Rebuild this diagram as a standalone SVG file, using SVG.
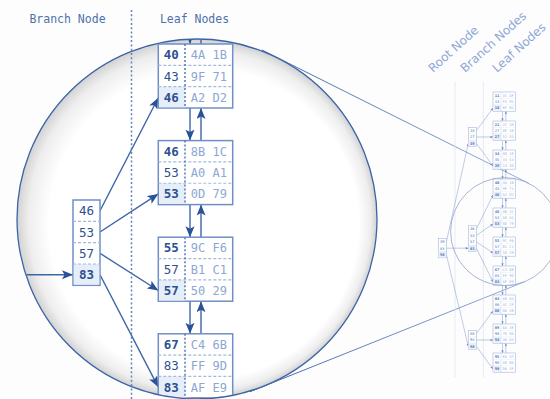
<svg xmlns="http://www.w3.org/2000/svg" width="550" height="399" viewBox="0 0 550 399">
<defs>
<style>
.hdr{font-family:"DejaVu Sans Mono",monospace;font-size:11.5px;fill:#4d72aa;text-anchor:middle}
.rot{font-family:"DejaVu Sans",sans-serif;font-size:12px;fill:#8ea8d6}
.k{font-family:"DejaVu Sans Mono",monospace;font-size:12.5px;fill:#2d5190;text-anchor:middle}
.kb{font-weight:bold}
.hx{fill:#8ca7d2;font-size:12px}
.box{fill:#fff;stroke:#6f90c6;stroke-width:1.5}
.row{stroke:#a3b9de;stroke-width:1.2;stroke-dasharray:3 2}
.col{stroke:#5479b8;stroke-width:1.5;stroke-dasharray:2 2}
.hl{fill:#e6eefa}
.con{stroke:#3c65a7;stroke-width:1.4;fill:none;marker-end:url(#ah)}
.sbox{fill:#fff;stroke:#a3b6da;stroke-width:0.6}
.srow{stroke:#c6d3ea;stroke-width:0.4;stroke-dasharray:1 0.7}
.scol{stroke:#9fb3d8;stroke-width:0.5;stroke-dasharray:0.7 0.7}
.shl{fill:#e9f0fb}
.sk{font-family:"DejaVu Sans Mono",monospace;font-size:3.8px;fill:#5577b0;text-anchor:middle}
.shx{fill:#a3b6da}
.scon{stroke:#7f99c8;stroke-width:0.5;fill:none;marker-end:url(#sah)}
.sep{stroke:#6184bd;stroke-width:1.5;stroke-dasharray:2 2.3}
.ssep{stroke:#cfd9ea;stroke-width:1;stroke-dasharray:0.8 0.8}
</style>
<radialGradient id="lens" cx="0.5" cy="0.5" r="0.5" fx="0.64" fy="0.6">
<stop offset="0" stop-color="#ffffff"/>
<stop offset="0.86" stop-color="#ffffff"/>
<stop offset="0.95" stop-color="#eeeeee"/>
<stop offset="1" stop-color="#d2d2d2"/>
</radialGradient>
<linearGradient id="tg" gradientUnits="userSpaceOnUse" x1="250" y1="0" x2="530" y2="0">
<stop offset="0" stop-color="#3b64a6"/>
<stop offset="1" stop-color="#9ab0d8"/>
</linearGradient>
<clipPath id="lensclip"><circle cx="197" cy="219" r="179.3"/></clipPath>
<marker id="ah" markerUnits="userSpaceOnUse" markerWidth="12" markerHeight="10" refX="11" refY="4.5" orient="auto">
<path d="M0,0 L11,4.5 L0,9 L2.5,4.5 Z" fill="#2a5296"/>
</marker>
<marker id="sah" markerUnits="userSpaceOnUse" markerWidth="4" markerHeight="3" refX="3" refY="1.2" orient="auto">
<path d="M0,0 L3,1.2 L0,2.4 L0.8,1.2 Z" fill="#5d7fbb"/>
</marker>
</defs>
<rect width="550" height="399" fill="#fdfdfd"/>

<!-- headers -->
<text class="hdr" x="67.5" y="23">Branch Node</text>
<text class="hdr" x="194.5" y="23">Leaf Nodes</text>
<text class="rot" transform="translate(433,73) rotate(-42)">Root Node</text>
<text class="rot" transform="translate(465,73) rotate(-42)">Branch Nodes</text>
<text class="rot" transform="translate(497,73) rotate(-42)">Leaf Nodes</text>

<!-- magnifying lens -->
<circle cx="197" cy="219" r="180" fill="url(#lens)"/>
<g clip-path="url(#lensclip)">
<g id="connectors">
<path class="con" d="M0,274.7 H73"/>
<path class="con" d="M100,210.7 L158.3,97.7"/>
<path class="con" d="M100,232 L158.3,193.9"/>
<path class="con" d="M100,253.3 L158.3,290.5"/>
<path class="con" d="M100,274.7 L158.3,387.1"/>
<path class="con" d="M190,11.4 V44"/><path class="con" d="M201,44 V11.4"/>
<path class="con" d="M190,108 V140.6"/><path class="con" d="M201,140.6 V108"/>
<path class="con" d="M190,204.6 V237.2"/><path class="con" d="M201,237.2 V204.6"/>
<path class="con" d="M190,301.2 V333.8"/><path class="con" d="M201,333.8 V301.2"/>
<path class="con" d="M190,397.8 V430.4"/><path class="con" d="M201,430.4 V397.8"/>
</g>
<g id="branch-big">
<rect class="box" x="73" y="200" width="27" height="85.33"/>
<rect class="hl" x="73.75" y="264" width="25.5" height="20.6"/>
<line class="row" x1="73" y1="221.33" x2="100" y2="221.33"/>
<line class="row" x1="73" y1="242.67" x2="100" y2="242.67"/>
<line class="row" x1="73" y1="264" x2="100" y2="264"/>
<text class="k" x="86.5" y="215.2">46</text>
<text class="k" x="86.5" y="236.5">53</text>
<text class="k" x="86.5" y="257.8">57</text>
<text class="k kb" x="86.5" y="279.2">83</text>
</g>
<g id="leaf-big-1" transform="translate(158.3,44)">
<rect class="box" width="74.4" height="64"/>
<rect class="hl" x="0.75" y="42.67" width="25.9" height="20.6"/>
<line class="row" x1="0" y1="21.33" x2="74.4" y2="21.33"/>
<line class="row" x1="0" y1="42.67" x2="74.4" y2="42.67"/>
<line class="col" x1="26.7" y1="0" x2="26.7" y2="64"/>
<text class="k kb" x="13" y="15.2">40</text><text class="k hx" x="50.5" y="15.2">4A 1B</text>
<text class="k" x="13" y="36.5">43</text><text class="k hx" x="50.5" y="36.5">9F 71</text>
<text class="k kb" x="13" y="57.8">46</text><text class="k hx" x="50.5" y="57.8">A2 D2</text>
</g>
<g id="leaf-big-2" transform="translate(158.3,140.6)">
<rect class="box" width="74.4" height="64"/>
<rect class="hl" x="0.75" y="42.67" width="25.9" height="20.6"/>
<line class="row" x1="0" y1="21.33" x2="74.4" y2="21.33"/>
<line class="row" x1="0" y1="42.67" x2="74.4" y2="42.67"/>
<line class="col" x1="26.7" y1="0" x2="26.7" y2="64"/>
<text class="k kb" x="13" y="15.2">46</text><text class="k hx" x="50.5" y="15.2">8B 1C</text>
<text class="k" x="13" y="36.5">53</text><text class="k hx" x="50.5" y="36.5">A0 A1</text>
<text class="k kb" x="13" y="57.8">53</text><text class="k hx" x="50.5" y="57.8">0D 79</text>
</g>
<g id="leaf-big-3" transform="translate(158.3,237.2)">
<rect class="box" width="74.4" height="64"/>
<rect class="hl" x="0.75" y="42.67" width="25.9" height="20.6"/>
<line class="row" x1="0" y1="21.33" x2="74.4" y2="21.33"/>
<line class="row" x1="0" y1="42.67" x2="74.4" y2="42.67"/>
<line class="col" x1="26.7" y1="0" x2="26.7" y2="64"/>
<text class="k kb" x="13" y="15.2">55</text><text class="k hx" x="50.5" y="15.2">9C F6</text>
<text class="k" x="13" y="36.5">57</text><text class="k hx" x="50.5" y="36.5">B1 C1</text>
<text class="k kb" x="13" y="57.8">57</text><text class="k hx" x="50.5" y="57.8">50 29</text>
</g>
<g id="leaf-big-4" transform="translate(158.3,333.8)">
<rect class="box" width="74.4" height="64"/>
<rect class="hl" x="0.75" y="42.67" width="25.9" height="20.6"/>
<line class="row" x1="0" y1="21.33" x2="74.4" y2="21.33"/>
<line class="row" x1="0" y1="42.67" x2="74.4" y2="42.67"/>
<line class="col" x1="26.7" y1="0" x2="26.7" y2="64"/>
<text class="k kb" x="13" y="15.2">67</text><text class="k hx" x="50.5" y="15.2">C4 6B</text>
<text class="k" x="13" y="36.5">83</text><text class="k hx" x="50.5" y="36.5">FF 9D</text>
<text class="k kb" x="13" y="57.8">83</text><text class="k hx" x="50.5" y="57.8">AF E9</text>
</g>
</g>
<circle cx="197" cy="219" r="180" fill="none" stroke="#3b64a6" stroke-width="1.3"/>
<line class="sep" x1="131.5" y1="10" x2="131.5" y2="399"/>

<!-- tangent lines to the small lens -->
<g fill="none" stroke="url(#tg)" stroke-width="1">
<path d="M262,50 L528.7,183.3"/>
<path d="M250,391.7 L524.7,281.7"/>
</g>

<!-- small overview tree -->
<line class="ssep" x1="455" y1="82" x2="455" y2="378"/>
<line class="ssep" x1="483.3" y1="82" x2="483.3" y2="378"/>
<g id="small-connectors">
<path class="scon" d="M446.4,241.8 L468.3,143.4"/>
<path class="scon" d="M446.4,248.2 H468.3"/>
<path class="scon" d="M446.4,254.6 L468.3,346.4"/>
<path class="scon" d="M476.4,130.6 L493,108"/>
<path class="scon" d="M476.4,137 L493,137"/>
<path class="scon" d="M476.4,143.4 L493,166"/>
<path class="scon" d="M476.4,229 L493,195"/>
<path class="scon" d="M476.4,235.4 L493,224"/>
<path class="scon" d="M476.4,241.8 L493,253"/>
<path class="scon" d="M476.4,248.2 L493,282"/>
<path class="scon" d="M476.4,333.6 L493,311"/>
<path class="scon" d="M476.4,340 L493,340"/>
<path class="scon" d="M476.4,346.4 L493,369"/>
<path class="scon" d="M502.5,111.2 V121"/><path class="scon" d="M505.8,121 V111.2"/>
<path class="scon" d="M502.5,140.2 V150"/><path class="scon" d="M505.8,150 V140.2"/>
<path class="scon" d="M502.5,169.2 V179"/><path class="scon" d="M505.8,179 V169.2"/>
<path class="scon" d="M502.5,198.2 V208"/><path class="scon" d="M505.8,208 V198.2"/>
<path class="scon" d="M502.5,227.2 V237"/><path class="scon" d="M505.8,237 V227.2"/>
<path class="scon" d="M502.5,256.2 V266"/><path class="scon" d="M505.8,266 V256.2"/>
<path class="scon" d="M502.5,285.2 V295"/><path class="scon" d="M505.8,295 V285.2"/>
<path class="scon" d="M502.5,314.2 V324"/><path class="scon" d="M505.8,324 V314.2"/>
<path class="scon" d="M502.5,343.2 V353"/><path class="scon" d="M505.8,353 V343.2"/>
</g>
<g id="root-small" transform="translate(438.3,238.6)">
<rect class="sbox" width="8.1" height="19.2"/><rect class="shl" x="0.3" y="12.8" width="7.5" height="6.1"/>
<line class="srow" x1="0" y1="6.4" x2="8.1" y2="6.4"/><line class="srow" x1="0" y1="12.8" x2="8.1" y2="12.8"/>
<text class="sk" x="4.05" y="4.55">39</text><text class="sk" x="4.05" y="10.95">83</text><text class="sk kb" x="4.05" y="17.35">98</text>
</g>
<g id="branch-small-1" transform="translate(468.3,127.4)">
<rect class="sbox" width="8.1" height="19.2"/><rect class="shl" x="0.3" y="12.8" width="7.5" height="6.1"/>
<line class="srow" x1="0" y1="6.4" x2="8.1" y2="6.4"/><line class="srow" x1="0" y1="12.8" x2="8.1" y2="12.8"/>
<text class="sk" x="4.05" y="4.55">18</text><text class="sk" x="4.05" y="10.95">27</text><text class="sk kb" x="4.05" y="17.35">39</text>
</g>
<g id="branch-small-2" transform="translate(468.3,225.8)">
<rect class="sbox" width="8.1" height="25.6"/><rect class="shl" x="0.3" y="19.2" width="7.5" height="6.1"/>
<line class="srow" x1="0" y1="6.4" x2="8.1" y2="6.4"/><line class="srow" x1="0" y1="12.8" x2="8.1" y2="12.8"/><line class="srow" x1="0" y1="19.2" x2="8.1" y2="19.2"/>
<text class="sk" x="4.05" y="4.55">46</text><text class="sk" x="4.05" y="10.95">53</text><text class="sk" x="4.05" y="17.35">57</text><text class="sk kb" x="4.05" y="23.75">83</text>
</g>
<g id="branch-small-3" transform="translate(468.3,330.4)">
<rect class="sbox" width="8.1" height="19.2"/><rect class="shl" x="0.3" y="12.8" width="7.5" height="6.1"/>
<line class="srow" x1="0" y1="6.4" x2="8.1" y2="6.4"/><line class="srow" x1="0" y1="12.8" x2="8.1" y2="12.8"/>
<text class="sk" x="4.05" y="4.55">88</text><text class="sk" x="4.05" y="10.95">94</text><text class="sk kb" x="4.05" y="17.35">98</text>
</g>
<g id="leaf-small-0" transform="translate(493,92)">
<rect class="sbox" width="22.4" height="19.2"/><rect class="shl" x="0.3" y="12.8" width="7.7" height="6.1"/>
<line class="srow" x1="0" y1="6.4" x2="22.4" y2="6.4"/><line class="srow" x1="0" y1="12.8" x2="22.4" y2="12.8"/><line class="scol" x1="8" y1="0" x2="8" y2="19.2"/>
<text class="sk kb" x="4" y="4.55">11</text><text class="sk shx" x="15.2" y="4.55">3C AF</text>
<text class="sk" x="4" y="10.95">13</text><text class="sk shx" x="15.2" y="10.95">F3 91</text>
<text class="sk kb" x="4" y="17.35">18</text><text class="sk shx" x="15.2" y="17.35">6F B2</text>
</g>
<g id="leaf-small-1" transform="translate(493,121)">
<rect class="sbox" width="22.4" height="19.2"/><rect class="shl" x="0.3" y="12.8" width="7.7" height="6.1"/>
<line class="srow" x1="0" y1="6.4" x2="22.4" y2="6.4"/><line class="srow" x1="0" y1="12.8" x2="22.4" y2="12.8"/><line class="scol" x1="8" y1="0" x2="8" y2="19.2"/>
<text class="sk kb" x="4" y="4.55">21</text><text class="sk shx" x="15.2" y="4.55">2C 50</text>
<text class="sk" x="4" y="10.95">27</text><text class="sk shx" x="15.2" y="10.95">0F 1B</text>
<text class="sk kb" x="4" y="17.35">27</text><text class="sk shx" x="15.2" y="17.35">52 55</text>
</g>
<g id="leaf-small-2" transform="translate(493,150)">
<rect class="sbox" width="22.4" height="19.2"/><rect class="shl" x="0.3" y="12.8" width="7.7" height="6.1"/>
<line class="srow" x1="0" y1="6.4" x2="22.4" y2="6.4"/><line class="srow" x1="0" y1="12.8" x2="22.4" y2="12.8"/><line class="scol" x1="8" y1="0" x2="8" y2="19.2"/>
<text class="sk kb" x="4" y="4.55">34</text><text class="sk shx" x="15.2" y="4.55">0D 1E</text>
<text class="sk" x="4" y="10.95">35</text><text class="sk shx" x="15.2" y="10.95">44 53</text>
<text class="sk kb" x="4" y="17.35">39</text><text class="sk shx" x="15.2" y="17.35">24 5D</text>
</g>
<g id="leaf-small-3" transform="translate(493,179)">
<rect class="sbox" width="22.4" height="19.2"/><rect class="shl" x="0.3" y="12.8" width="7.7" height="6.1"/>
<line class="srow" x1="0" y1="6.4" x2="22.4" y2="6.4"/><line class="srow" x1="0" y1="12.8" x2="22.4" y2="12.8"/><line class="scol" x1="8" y1="0" x2="8" y2="19.2"/>
<text class="sk kb" x="4" y="4.55">40</text><text class="sk shx" x="15.2" y="4.55">4A 1B</text>
<text class="sk" x="4" y="10.95">43</text><text class="sk shx" x="15.2" y="10.95">9F 71</text>
<text class="sk kb" x="4" y="17.35">46</text><text class="sk shx" x="15.2" y="17.35">A2 D2</text>
</g>
<g id="leaf-small-4" transform="translate(493,208)">
<rect class="sbox" width="22.4" height="19.2"/><rect class="shl" x="0.3" y="12.8" width="7.7" height="6.1"/>
<line class="srow" x1="0" y1="6.4" x2="22.4" y2="6.4"/><line class="srow" x1="0" y1="12.8" x2="22.4" y2="12.8"/><line class="scol" x1="8" y1="0" x2="8" y2="19.2"/>
<text class="sk kb" x="4" y="4.55">46</text><text class="sk shx" x="15.2" y="4.55">8B 1C</text>
<text class="sk" x="4" y="10.95">53</text><text class="sk shx" x="15.2" y="10.95">A0 A1</text>
<text class="sk kb" x="4" y="17.35">53</text><text class="sk shx" x="15.2" y="17.35">0D 79</text>
</g>
<g id="leaf-small-5" transform="translate(493,237)">
<rect class="sbox" width="22.4" height="19.2"/><rect class="shl" x="0.3" y="12.8" width="7.7" height="6.1"/>
<line class="srow" x1="0" y1="6.4" x2="22.4" y2="6.4"/><line class="srow" x1="0" y1="12.8" x2="22.4" y2="12.8"/><line class="scol" x1="8" y1="0" x2="8" y2="19.2"/>
<text class="sk kb" x="4" y="4.55">55</text><text class="sk shx" x="15.2" y="4.55">9C F6</text>
<text class="sk" x="4" y="10.95">57</text><text class="sk shx" x="15.2" y="10.95">B1 C1</text>
<text class="sk kb" x="4" y="17.35">57</text><text class="sk shx" x="15.2" y="17.35">50 29</text>
</g>
<g id="leaf-small-6" transform="translate(493,266)">
<rect class="sbox" width="22.4" height="19.2"/><rect class="shl" x="0.3" y="12.8" width="7.7" height="6.1"/>
<line class="srow" x1="0" y1="6.4" x2="22.4" y2="6.4"/><line class="srow" x1="0" y1="12.8" x2="22.4" y2="12.8"/><line class="scol" x1="8" y1="0" x2="8" y2="19.2"/>
<text class="sk kb" x="4" y="4.55">67</text><text class="sk shx" x="15.2" y="4.55">C4 6B</text>
<text class="sk" x="4" y="10.95">83</text><text class="sk shx" x="15.2" y="10.95">FF 9D</text>
<text class="sk kb" x="4" y="17.35">83</text><text class="sk shx" x="15.2" y="17.35">AF E9</text>
</g>
<g id="leaf-small-7" transform="translate(493,295)">
<rect class="sbox" width="22.4" height="19.2"/><rect class="shl" x="0.3" y="12.8" width="7.7" height="6.1"/>
<line class="srow" x1="0" y1="6.4" x2="22.4" y2="6.4"/><line class="srow" x1="0" y1="12.8" x2="22.4" y2="12.8"/><line class="scol" x1="8" y1="0" x2="8" y2="19.2"/>
<text class="sk kb" x="4" y="4.55">84</text><text class="sk shx" x="15.2" y="4.55">80 64</text>
<text class="sk" x="4" y="10.95">86</text><text class="sk shx" x="15.2" y="10.95">4C 2F</text>
<text class="sk kb" x="4" y="17.35">88</text><text class="sk shx" x="15.2" y="17.35">06 5B</text>
</g>
<g id="leaf-small-8" transform="translate(493,324)">
<rect class="sbox" width="22.4" height="19.2"/><rect class="shl" x="0.3" y="12.8" width="7.7" height="6.1"/>
<line class="srow" x1="0" y1="6.4" x2="22.4" y2="6.4"/><line class="srow" x1="0" y1="12.8" x2="22.4" y2="12.8"/><line class="scol" x1="8" y1="0" x2="8" y2="19.2"/>
<text class="sk kb" x="4" y="4.55">89</text><text class="sk shx" x="15.2" y="4.55">6A 3E</text>
<text class="sk" x="4" y="10.95">90</text><text class="sk shx" x="15.2" y="10.95">7D 9A</text>
<text class="sk kb" x="4" y="17.35">94</text><text class="sk shx" x="15.2" y="17.35">36 D4</text>
</g>
<g id="leaf-small-9" transform="translate(493,353)">
<rect class="sbox" width="22.4" height="19.2"/><rect class="shl" x="0.3" y="12.8" width="7.7" height="6.1"/>
<line class="srow" x1="0" y1="6.4" x2="22.4" y2="6.4"/><line class="srow" x1="0" y1="12.8" x2="22.4" y2="12.8"/><line class="scol" x1="8" y1="0" x2="8" y2="19.2"/>
<text class="sk kb" x="4" y="4.55">95</text><text class="sk shx" x="15.2" y="4.55">EA 37</text>
<text class="sk" x="4" y="10.95">98</text><text class="sk shx" x="15.2" y="10.95">5E B8</text>
<text class="sk kb" x="4" y="17.35">98</text><text class="sk shx" x="15.2" y="17.35">D6 4F</text>
</g>
<circle cx="504.6" cy="231.6" r="54" fill="none" stroke="#8da5cf" stroke-width="0.8"/>
</svg>
